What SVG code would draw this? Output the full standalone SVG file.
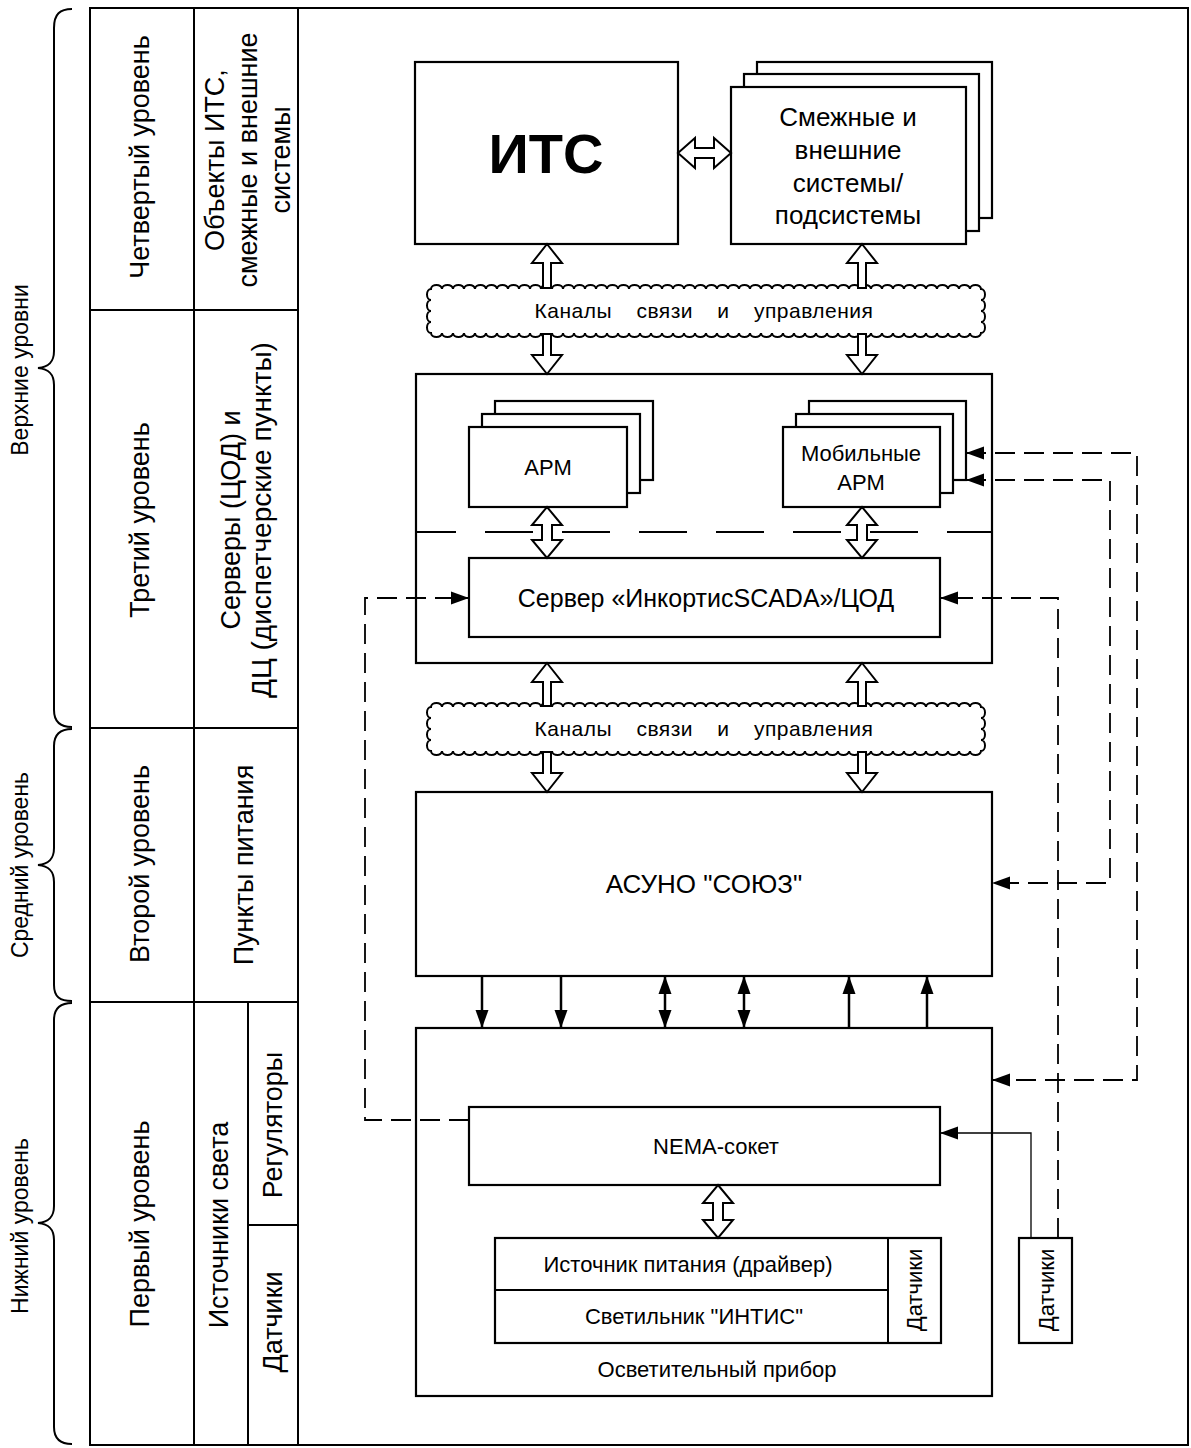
<svg xmlns="http://www.w3.org/2000/svg" xmlns:xlink="http://www.w3.org/1999/xlink" width="1191" height="1448" viewBox="0 0 1191 1448">
<style>
.t{font-family:"Liberation Sans",Arial,sans-serif;fill:#000;text-anchor:middle}
.box{fill:#fff;stroke:#000;stroke-width:2.2}
.ln{fill:none;stroke:#000;stroke-width:2}
.hol{fill:#fff;stroke:#000;stroke-width:2;stroke-linejoin:miter}
.sol{fill:none;stroke:#000;stroke-width:2.5;marker-end:url(#ah)}
.dbl{marker-start:url(#ah)}
.dash{fill:none;stroke:#000;stroke-width:1.8;stroke-dasharray:20 9;marker-end:url(#ah)}
.thin{fill:none;stroke:#000;stroke-width:1.3;marker-end:url(#ah)}
.cloud{fill:#fff;stroke:#000;stroke-width:2}
.ct{font-size:21px;letter-spacing:0.5px;word-spacing:18px}
</style>
<defs>
<marker id="ah" markerUnits="userSpaceOnUse" markerWidth="18" markerHeight="13" refX="18" refY="6.5" orient="auto-start-reverse" overflow="visible"><path d="M0,0 L18,6.5 L0,13 z" fill="#000" stroke="none"/></marker>
<path id="cloud" d="M431,289 a5.5 4 0 0 1 11 0 a5.5 4 0 0 1 11 0 a5.5 4 0 0 1 11 0 a5.5 4 0 0 1 11 0 a5.5 4 0 0 1 11 0 a5.5 4 0 0 1 11 0 a5.5 4 0 0 1 11 0 a5.5 4 0 0 1 11 0 a5.5 4 0 0 1 11 0 a5.5 4 0 0 1 11 0 a5.5 4 0 0 1 11 0 a5.5 4 0 0 1 11 0 a5.5 4 0 0 1 11 0 a5.5 4 0 0 1 11 0 a5.5 4 0 0 1 11 0 a5.5 4 0 0 1 11 0 a5.5 4 0 0 1 11 0 a5.5 4 0 0 1 11 0 a5.5 4 0 0 1 11 0 a5.5 4 0 0 1 11 0 a5.5 4 0 0 1 11 0 a5.5 4 0 0 1 11 0 a5.5 4 0 0 1 11 0 a5.5 4 0 0 1 11 0 a5.5 4 0 0 1 11 0 a5.5 4 0 0 1 11 0 a5.5 4 0 0 1 11 0 a5.5 4 0 0 1 11 0 a5.5 4 0 0 1 11 0 a5.5 4 0 0 1 11 0 a5.5 4 0 0 1 11 0 a5.5 4 0 0 1 11 0 a5.5 4 0 0 1 11 0 a5.5 4 0 0 1 11 0 a5.5 4 0 0 1 11 0 a5.5 4 0 0 1 11 0 a5.5 4 0 0 1 11 0 a5.5 4 0 0 1 11 0 a5.5 4 0 0 1 11 0 a5.5 4 0 0 1 11 0 a5.5 4 0 0 1 11 0 a5.5 4 0 0 1 11 0 a5.5 4 0 0 1 11 0 a5.5 4 0 0 1 11 0 a5.5 4 0 0 1 11 0 a5.5 4 0 0 1 11 0 a5.5 4 0 0 1 11 0 a5.5 4 0 0 1 11 0 a5.5 4 0 0 1 11 0 a5.5 4 0 0 1 11 0 a4 5.5 0 0 1 0 11 a4 5.5 0 0 1 0 11 a4 5.5 0 0 1 0 11 a4 5.5 0 0 1 0 11 a5.5 4 0 0 1 -11 0 a5.5 4 0 0 1 -11 0 a5.5 4 0 0 1 -11 0 a5.5 4 0 0 1 -11 0 a5.5 4 0 0 1 -11 0 a5.5 4 0 0 1 -11 0 a5.5 4 0 0 1 -11 0 a5.5 4 0 0 1 -11 0 a5.5 4 0 0 1 -11 0 a5.5 4 0 0 1 -11 0 a5.5 4 0 0 1 -11 0 a5.5 4 0 0 1 -11 0 a5.5 4 0 0 1 -11 0 a5.5 4 0 0 1 -11 0 a5.5 4 0 0 1 -11 0 a5.5 4 0 0 1 -11 0 a5.5 4 0 0 1 -11 0 a5.5 4 0 0 1 -11 0 a5.5 4 0 0 1 -11 0 a5.5 4 0 0 1 -11 0 a5.5 4 0 0 1 -11 0 a5.5 4 0 0 1 -11 0 a5.5 4 0 0 1 -11 0 a5.5 4 0 0 1 -11 0 a5.5 4 0 0 1 -11 0 a5.5 4 0 0 1 -11 0 a5.5 4 0 0 1 -11 0 a5.5 4 0 0 1 -11 0 a5.5 4 0 0 1 -11 0 a5.5 4 0 0 1 -11 0 a5.5 4 0 0 1 -11 0 a5.5 4 0 0 1 -11 0 a5.5 4 0 0 1 -11 0 a5.5 4 0 0 1 -11 0 a5.5 4 0 0 1 -11 0 a5.5 4 0 0 1 -11 0 a5.5 4 0 0 1 -11 0 a5.5 4 0 0 1 -11 0 a5.5 4 0 0 1 -11 0 a5.5 4 0 0 1 -11 0 a5.5 4 0 0 1 -11 0 a5.5 4 0 0 1 -11 0 a5.5 4 0 0 1 -11 0 a5.5 4 0 0 1 -11 0 a5.5 4 0 0 1 -11 0 a5.5 4 0 0 1 -11 0 a5.5 4 0 0 1 -11 0 a5.5 4 0 0 1 -11 0 a5.5 4 0 0 1 -11 0 a5.5 4 0 0 1 -11 0 a4 5.5 0 0 1 0 -11 a4 5.5 0 0 1 0 -11 a4 5.5 0 0 1 0 -11 a4 5.5 0 0 1 0 -11 z"/>
</defs>
<rect width="1191" height="1448" fill="#fff"/>

<g id="braces" class="ln" stroke-width="2">
<path d="M72,9 C60,9 54,14 54,28 L54,351 C54,362 49,367 38,368 C49,369 54,374 54,385 L54,710 C54,722 60,727 72,727"/>
<path d="M72,729 C60,729 54,734 54,746 L54,848 C54,859 49,864 38,865 C49,866 54,871 54,882 L54,985 C54,997 60,1001 72,1001"/>
<path d="M72,1003 C60,1003 54,1008 54,1020 L54,1206 C54,1217 49,1222 38,1223 C49,1224 54,1229 54,1240 L54,1427 C54,1439 60,1444 72,1444"/>
</g>
<g id="brace-labels" class="t" font-size="23">
<text transform="translate(28,370) rotate(-90)">Верхние уровни</text>
<text transform="translate(28,865) rotate(-90)">Средний уровень</text>
<text transform="translate(28,1226) rotate(-90)">Нижний уровень</text>
</g>

<g id="frame" class="ln">
<rect x="90" y="8" width="1098" height="1437"/>
<path d="M194,8 V1445 M298,8 V1445 M90,310 H298 M90,728 H298 M90,1002 H298 M248,1002 V1445 M248,1225 H298"/>
</g>
<g id="level-labels" class="t" font-size="27">
<text transform="translate(149,157) rotate(-90)">Четвертый уровень</text>
<text transform="translate(149,520) rotate(-90)">Третий уровень</text>
<text transform="translate(149,864) rotate(-90)">Второй уровень</text>
<text transform="translate(149,1224) rotate(-90)">Первый уровень</text>
<text transform="translate(224,160) rotate(-90)">Объекты ИТС,</text>
<text transform="translate(257,160) rotate(-90)">смежные и внешние</text>
<text transform="translate(290,160) rotate(-90)">системы</text>
<text transform="translate(240,520) rotate(-90)">Серверы (ЦОД) и</text>
<text transform="translate(271,520) rotate(-90)" font-size="28">ДЦ (диспетчерские пункты)</text>
<text transform="translate(253,865) rotate(-90)">Пункты питания</text>
<text transform="translate(228,1225) rotate(-90)">Источники света</text>
<text transform="translate(282,1125) rotate(-90)">Регуляторы</text>
<text transform="translate(282,1322) rotate(-90)">Датчики</text>
</g>

<g id="connectors">
<path class="ln" d="M416,532 H992" stroke-dasharray="48 29" stroke-dashoffset="8" stroke-width="2.2"/>
<path class="dash" d="M469,1120 H365 V598 H469"/>
<path class="dash" d="M1058,1238 V598 H940"/>
<path class="dash dbl" d="M966,480 H1110 V883 H992"/>
<path class="dash dbl" d="M966,453 H1137 V1080 H992"/>
<path class="thin" d="M1031,1238 V1133 H940"/>
<path class="sol" d="M482,976 V1028"/>
<path class="sol" d="M561,976 V1028"/>
<path class="sol dbl" d="M665,976 V1028"/>
<path class="sol dbl" d="M744,976 V1028"/>
<path class="sol" d="M849,1028 V976"/>
<path class="sol" d="M927,1028 V976"/>
</g>

<g id="its">
<rect class="box" x="415" y="62" width="263" height="182"/>
<text class="t" x="546" y="173" font-size="56" font-weight="bold">ИТС</text>
</g>
<g id="external-systems">
<rect class="box" x="757" y="62" width="235" height="156"/>
<rect class="box" x="744" y="74" width="235" height="157"/>
<rect class="box" x="731" y="87" width="235" height="157"/>
<g class="t" font-size="26">
<text x="848" y="126">Смежные и</text>
<text x="848" y="159">внешние</text>
<text x="848" y="192">системы/</text>
<text x="848" y="224">подсистемы</text>
</g>
</g>

<g id="channels-1">
<use xlink:href="#cloud" class="cloud"/>
<text class="t ct" x="704" y="318">Каналы связи и управления</text>
</g>

<g id="server-group">
<rect class="box" x="416" y="374" width="576" height="289" style="fill:none"/>
</g>
<g id="arm">
<rect class="box" x="495" y="401" width="158" height="79"/>
<rect class="box" x="482" y="414" width="158" height="79"/>
<rect class="box" x="469" y="427" width="158" height="80"/>
<text class="t" x="548" y="475" font-size="22">АРМ</text>
</g>
<g id="mobile-arm">
<rect class="box" x="809" y="401" width="157" height="79"/>
<rect class="box" x="796" y="414" width="157" height="79"/>
<rect class="box" x="783" y="427" width="157" height="80"/>
<text class="t" x="861" y="461" font-size="22">Мобильные</text>
<text class="t" x="861" y="490" font-size="22">АРМ</text>
</g>
<g id="server">
<rect class="box" x="469" y="558" width="471" height="79"/>
<text class="t" x="706" y="607" font-size="25">Сервер «ИнкортисSCADA»/ЦОД</text>
</g>

<g id="channels-2">
<use xlink:href="#cloud" class="cloud" y="418"/>
<text class="t ct" x="704" y="736">Каналы связи и управления</text>
</g>

<g id="asuno">
<rect class="box" x="416" y="792" width="576" height="184"/>
<text class="t" x="704" y="893" font-size="26">АСУНО "СОЮЗ"</text>
</g>

<g id="luminaire-device">
<rect class="box" x="416" y="1028" width="576" height="368" style="fill:none"/>
<text class="t" x="717" y="1377" font-size="22">Осветительный прибор</text>
</g>
<g id="nema">
<rect class="box" x="469" y="1107" width="471" height="78"/>
<text class="t" x="716" y="1154" font-size="22">NEMA-сокет</text>
</g>
<g id="luminaire">
<rect class="box" x="495" y="1238" width="446" height="105"/>
<path class="ln" d="M495,1290 H888 M888,1238 V1343"/>
<text class="t" x="688" y="1272" font-size="22">Источник питания (драйвер)</text>
<text class="t" x="694" y="1324" font-size="22">Светильник "ИНТИС"</text>
<text class="t" transform="translate(922,1290) rotate(-90)" font-size="22">Датчики</text>
</g>
<g id="sensors">
<rect class="box" x="1019" y="1238" width="53" height="105"/>
<text class="t" transform="translate(1054,1290) rotate(-90)" font-size="22">Датчики</text>
</g>

<g id="hollow-arrows" class="hol">
<polygon points="678,153 695,138 695,148 714,148 714,138 731,153 714,168 714,158 695,158 695,168"/>
<polygon points="547,244 562,263 551,263 551,288 543,288 543,263 532,263"/>
<polygon points="862,244 877,263 866,263 866,288 858,288 858,263 847,263"/>
<polygon points="543,334 551,334 551,355 562,355 547,374 532,355 543,355"/>
<polygon points="858,334 866,334 866,355 877,355 862,374 847,355 858,355"/>
<polygon points="547,507 562,525 552,525 552,540 562,540 547,558 532,540 542,540 542,525 532,525"/>
<polygon points="862,507 877,525 867,525 867,540 877,540 862,558 847,540 857,540 857,525 847,525"/>
<polygon points="547,663 562,682 551,682 551,706 543,706 543,682 532,682"/>
<polygon points="862,663 877,682 866,682 866,706 858,706 858,682 847,682"/>
<polygon points="543,752 551,752 551,773 562,773 547,792 532,773 543,773"/>
<polygon points="858,752 866,752 866,773 877,773 862,792 847,773 858,773"/>
<polygon points="718,1185 733,1203 723,1203 723,1220 733,1220 718,1238 703,1220 713,1220 713,1203 703,1203"/>
</g>
</svg>
